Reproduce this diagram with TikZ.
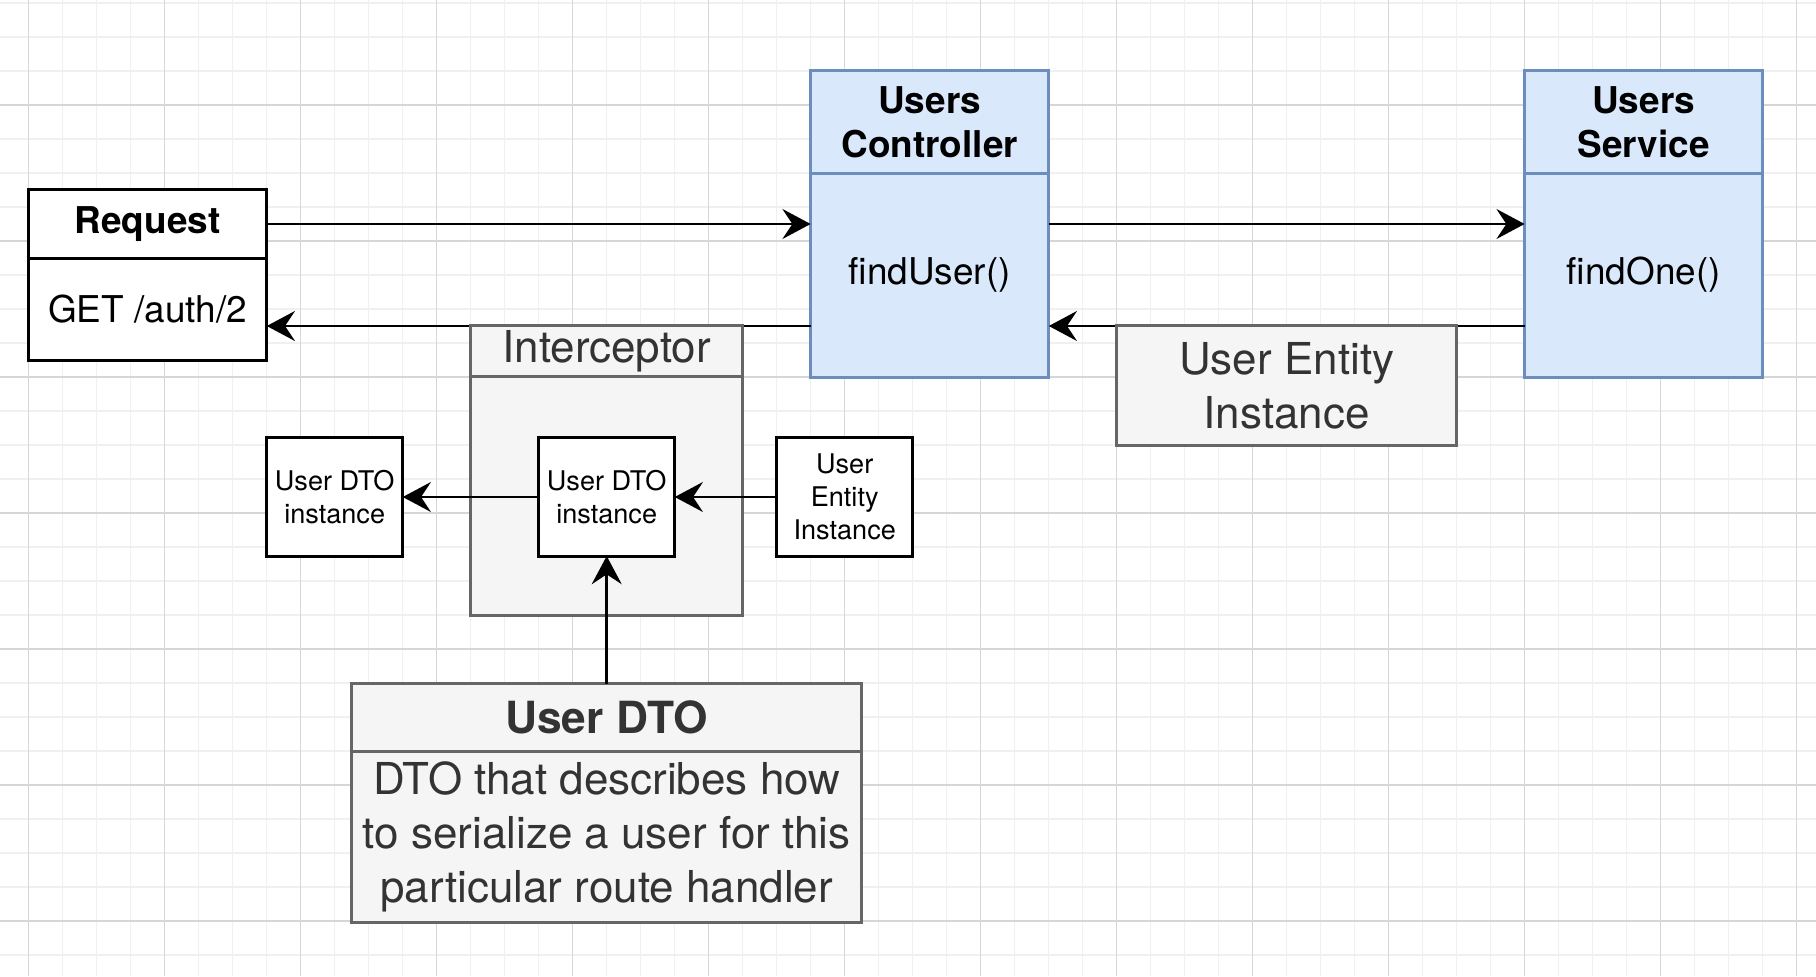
\documentclass[tikz,border=0pt]{standalone}
\usepackage{fontspec}
\setmainfont{TeX Gyre Heros}
\usetikzlibrary{arrows.meta,positioning}
\definecolor{bluefill}{HTML}{DAE8FC}
\definecolor{blueline}{HTML}{6C8EBF}
\definecolor{grayfill}{HTML}{F5F5F5}
\definecolor{grayline}{HTML}{666666}
\definecolor{graytext}{HTML}{333333}
\definecolor{gridminor}{HTML}{F0F0F0}
\definecolor{gridmajor}{HTML}{D6D6D6}
\tikzset{
	box/.style={draw, line width=0.85pt, minimum width=2.38cm, inner sep=0pt, outer sep=0pt, align=center, font=\fontsize{10.5}{12.6}\selectfont},
	boldtext/.style={font=\fontsize{10.5}{12.6}\selectfont\bfseries},
	plainbox/.style={box, fill=white},
	bluebox/.style={box, draw=blueline, fill=bluefill},
	graybox/.style={box, draw=grayline, fill=grayfill, text=graytext, font=\fontsize{12.5}{15.3}\selectfont},
	smallbox/.style={box, fill=white, minimum width=1.36cm, minimum height=1.18cm, font=\fontsize{7.7}{9.3}\selectfont},
	flow/.style={line width=0.75pt, -{Stealth[length=8pt,width=8.5pt,inset=2.8pt]}}
}
\begin{document}
\begin{tikzpicture}[x=0.01cm, y=-0.01cm]
		\useasboundingbox (0,0) rectangle (1816,976);
		\fill[white] (0,0) rectangle (1816,976);
		\foreach \k in {0,...,52} {
			\pgfmathsetmacro{\gx}{28.7+34*\k}
			\draw[gridminor, line width=0.3pt] (\gx,0) -- (\gx,976);
		}
		\foreach \k in {0,...,28} {
			\pgfmathsetmacro{\gy}{3+34*\k}
			\draw[gridminor, line width=0.3pt] (0,\gy) -- (1816,\gy);
		}
		\foreach \k in {0,...,13} {
			\pgfmathsetmacro{\gx}{28.7+136*\k}
			\draw[gridmajor, line width=0.3pt] (\gx,0) -- (\gx,976);
		}
		\foreach \k in {0,...,6} {
			\pgfmathsetmacro{\gy}{105+136*\k}
			\draw[gridmajor, line width=0.3pt] (0,\gy) -- (1816,\gy);
		}

		\node[plainbox, boldtext, minimum height=0.68cm] (reqhead) at (147.7,224) {Request};
		\node[plainbox, minimum height=1.02cm, anchor=north] (reqbody) at (reqhead.south) {GET /auth/2};

		\node[bluebox, boldtext, minimum height=1.02cm] (ctrlhead) at (929.7,122) {Users\\Controller};
		\node[bluebox, minimum height=2.04cm, anchor=north] (ctrlbody) at (ctrlhead.south) {findUser()};

		\node[bluebox, boldtext, minimum height=1.02cm] (svchead) at (1643.7,122) {Users\\Service};
		\node[bluebox, minimum height=2.04cm, anchor=north] (svcbody) at (svchead.south) {findOne()};

		\coordinate (ret) at (1000,326);
		\draw[flow] (reqhead.east) -- (reqhead.east -| ctrlbody.west);
		\draw[flow] (ctrlbody.east |- reqhead.east) -- (svcbody.west |- reqhead.east);
		\draw[flow] (svcbody.west |- ret) -- (ctrlbody.east |- ret);
		\draw[flow] (ctrlbody.west |- ret) -- (reqbody.east |- ret);

		\node[graybox, minimum width=3.4cm, minimum height=1.19cm] (entitylabel) at (1286.7,385.5) {User Entity\\Instance};

		\node[graybox, minimum width=2.72cm, minimum height=0.5cm] (icpthead) at (606.7,351) {Interceptor};
		\node[graybox, minimum width=2.72cm, minimum height=2.39cm, anchor=north] (icptbody) at (icpthead.south) {};

		\node[smallbox] (dtoout) at (334.7,497) {User DTO\\instance};
		\node[smallbox] (dtoinner) at (606.7,497) {User DTO\\instance};
		\node[smallbox] (entitysmall) at (844.7,497) {User\\Entity\\Instance};

		\node[graybox, font=\fontsize{12.6}{15}\selectfont\bfseries, minimum width=5.1cm, minimum height=0.67cm] (dtohead) at (606.7,717.5) {User DTO};
		\node[graybox, minimum width=5.1cm, minimum height=1.71cm, anchor=north] (dtobody) at (dtohead.south) {DTO that describes how\\to serialize a user for this\\particular route handler};

		\draw[flow] (dtoinner.west) -- (dtoout.east);
		\draw[flow] (entitysmall.west) -- (dtoinner.east);
		\draw[flow] (dtohead.north) -- (dtoinner.south);
	\end{tikzpicture}
\end{document}
